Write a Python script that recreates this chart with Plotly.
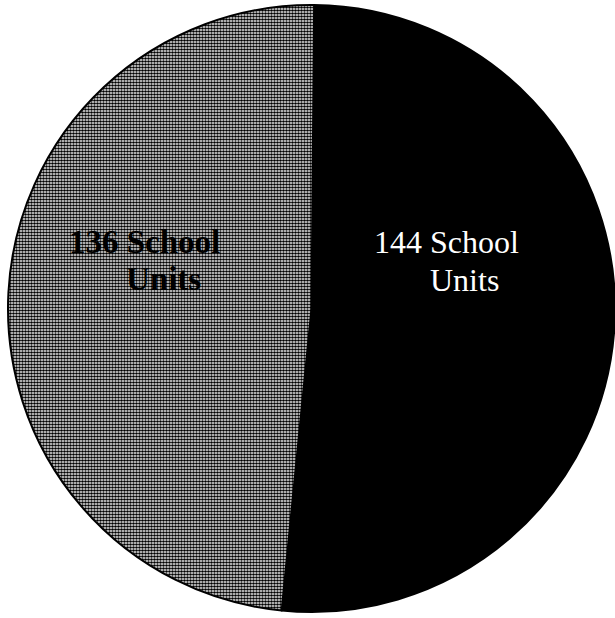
import plotly.graph_objects as go

categories = ["144 School Units", "136 School Units"]
values = [144, 136]
line1 = [f"{v} School" for v in values]
line2 = ["Units", "Units"]

W, H = 615, 618

fig = go.Figure()
fig.add_trace(go.Pie(
    labels=categories,
    values=values,
    sort=False,
    direction="clockwise",
    rotation=0.5,
    textinfo="none",
    hoverinfo="skip",
    showlegend=False,
    domain=dict(x=[8 / W, 1.0], y=[1 - 614 / H, 1 - 3 / H]),
    marker=dict(
        colors=["#000000", "#ffffff"],
        line=dict(color="#000000", width=2),
        pattern=dict(
            shape=["", "."],
            fgcolor="#000000",
            bgcolor="#ffffff",
            size=3,
            solidity=0.62,
        ),
    ),
))

def px(x):
    return x / W

def py(y):
    return 1 - y / H

ann = []
# right (black) slice label, white regular serif
ann.append(dict(x=px(372), y=py(242), text=line1[0], xanchor="left", yanchor="middle",
                font=dict(family="Liberation Serif", size=32, color="#ffffff")))
ann.append(dict(x=px(428), y=py(280), text=line2[0], xanchor="left", yanchor="middle",
                font=dict(family="Liberation Serif", size=32, color="#ffffff")))
# left (patterned) slice label, bold black serif
ann.append(dict(x=px(67), y=py(242), text=f"<b>{line1[1]}</b>", xanchor="left", yanchor="middle",
                font=dict(family="Liberation Serif", size=33, color="#000000")))
ann.append(dict(x=px(124), y=py(279), text=f"<b>{line2[1]}</b>", xanchor="left", yanchor="middle",
                font=dict(family="Liberation Serif", size=33, color="#000000")))
for a in ann:
    a.update(xref="paper", yref="paper", showarrow=False)

fig.update_layout(
    width=W, height=H,
    margin=dict(l=0, r=0, t=0, b=0),
    paper_bgcolor="#ffffff",
    plot_bgcolor="#ffffff",
    annotations=ann,
)

fig.write_html(
    "out.html",
    config={"displayModeBar": False},
    post_script="document.body.style.margin='0';document.body.style.overflow='hidden';",
)
